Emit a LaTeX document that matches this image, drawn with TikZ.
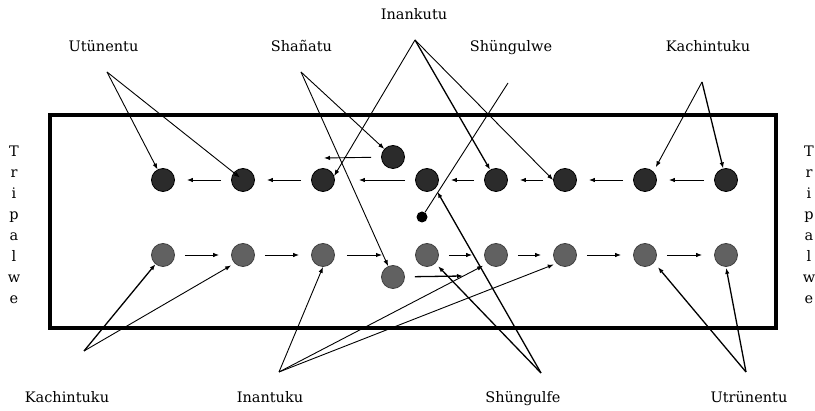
\documentclass[tikz,border=0pt]{standalone}
\usepackage{fontspec}
\setmainfont{DejaVu Serif}
\usetikzlibrary{arrows.meta}
\begin{document}
\begin{tikzpicture}[x=1pt,y=-1pt,
  darkc/.style={circle,draw=black,fill=black!83,line width=0.8pt,minimum size=23pt,inner sep=0pt},
  grayc/.style={circle,draw=black!75,fill=black!62,line width=0.8pt,minimum size=23pt,inner sep=0pt},
  dotc/.style={circle,fill=black,minimum size=11pt,inner sep=0pt},
  lab/.style={font=\fontsize{14.5}{17}\selectfont,anchor=base,inner sep=0pt},
  side/.style={font=\fontsize{14.5}{21}\selectfont,align=center,inner sep=0pt},
  tip/.style={-{Latex[length=6pt,width=4.5pt]}},
  conn/.style={tip,line width=0.9pt},
  connb/.style={tip,line width=1.3pt},
  rowarr/.style={tip,line width=0.9pt,shorten <=10pt,shorten >=12pt}]
\useasboundingbox (0,0) rectangle (815,411);
\draw[line width=3.5pt] (50,115) rectangle (776,328);
% circles
\foreach \i/\x in {1/163,2/243,3/323,4/427,5/496,6/565,7/645,8/726}{
  \node[darkc] (t\i) at (\x,180) {};
  \node[grayc] (b\i) at (\x,255) {};
}
\node[darkc] (tx) at (393,157) {};
\node[grayc] (bx) at (393,277) {};
\node[dotc] (dot) at (422,217) {};
\coordinate (txend) at (324,158);
\coordinate (bxend) at (463,276);
\coordinate (b3end) at (382,255);
% row arrows
\draw[rowarr] (t2) -- (t1);
\draw[rowarr] (t3) -- (t2);
\draw[rowarr,shorten >=24pt] (t4) -- (t3);
\draw[rowarr] (t5) -- (t4);
\draw[rowarr] (t6) -- (t5);
\draw[rowarr] (t7) -- (t6);
\draw[rowarr] (t8) -- (t7);
\draw[rowarr] (b1) -- (b2);
\draw[rowarr] (b2) -- (b3);
\draw[tip,line width=0.9pt,shorten <=12pt] (b3) -- (b3end);
\draw[rowarr] (b4) -- (b5);
\draw[rowarr] (b5) -- (b6);
\draw[rowarr] (b6) -- (b7);
\draw[rowarr] (b7) -- (b8);
\draw[conn,shorten <=10pt] (tx) -- (txend);
\draw[connb,shorten <=10pt] (bx) -- (bxend);
% labels
\node[lab] (inankutu) at (414,19.5) {Inankutu};
\node[lab] (utunentu) at (103.5,51.5) {Utünentu};
\node[lab] (shanatu) at (301.5,51.5) {Shañatu};
\node[lab] (shungulwe) at (511,51.5) {Shüngulwe};
\node[lab] (kachtop) at (708,51.5) {Kachintuku};
\node[lab] (kachbot) at (67,403) {Kachintuku};
\node[lab] (inantuku) at (270,403) {Inantuku};
\node[lab] (shungulfe) at (523,403) {Shüngulfe};
\node[lab] (utrunentu) at (749,403) {Utrünentu};
\node[side] (sidel) at (14,225) {T\\r\\i\\p\\a\\l\\w\\e};
\node[side] (sider) at (809,225) {T\\r\\i\\p\\a\\l\\w\\e};
% apex coordinates
\coordinate (aUt) at (107,72);
\coordinate (aSh) at (301,72);
\coordinate (aIn) at (415,40);
\coordinate (aSw) at (508,83);
\coordinate (aKt) at (702,82);
\coordinate (aKb) at (84,351);
\coordinate (aIb) at (279,372);
\coordinate (aSf) at (541,373);
\coordinate (aUr) at (746,372);
% connectors
\draw[conn] (aUt) -- (t1);
\draw[conn,shorten >=4pt] (aUt) -- (t2.center);
\draw[conn] (aSh) -- (tx);
\draw[conn] (aSh) -- (bx);
\draw[conn] (aIn) -- (t3.20);
\draw[connb] (aIn) -- (t5);
\draw[conn] (aIn) -- (t6.west);
\draw[line width=0.9pt] (aSw) -- (dot);
\draw[conn,shorten >=5pt] (aKt) -- (t7.45);
\draw[connb] (aKt) -- (t8);
\draw[connb] (aKb) -- (b1);
\draw[conn,shorten >=4pt] (aKb) -- (b2.225);
\draw[conn] (aIb) -- (b3.south);
\draw[conn,shorten >=5pt] (aIb) -- (b5.225);
\draw[conn,shorten >=3pt] (aIb) -- (b6.225);
\draw[connb,shorten >=4pt] (aSf) -- (b4.-45);
\draw[connb,shorten >=4pt] (aSf) -- (t4.-45);
\draw[connb,shorten >=6pt] (aUr) -- (b7.-40);
\draw[connb,shorten >=1pt] (aUr) -- (b8.south);
\end{tikzpicture}
\end{document}
